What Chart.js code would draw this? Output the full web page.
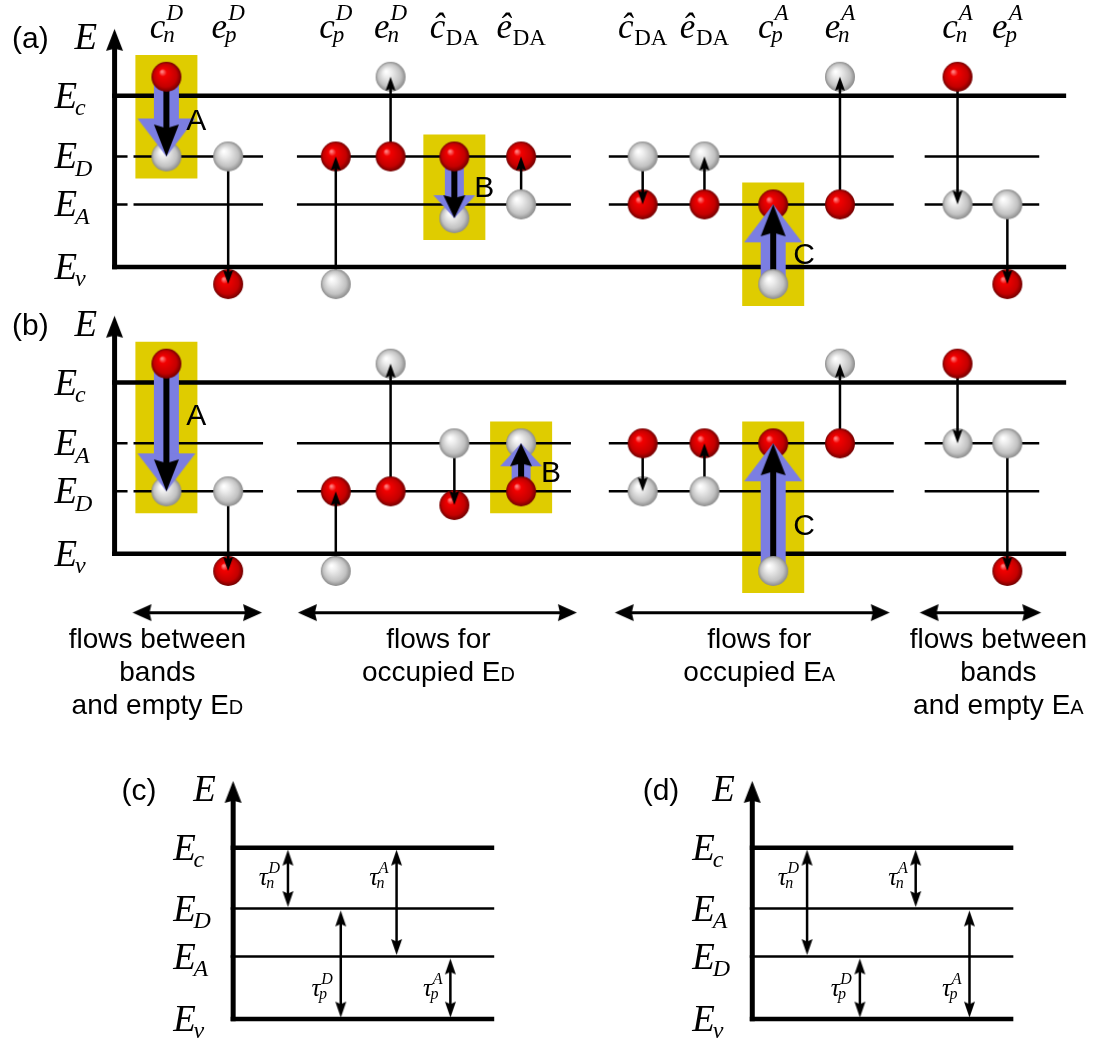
<!DOCTYPE html>
<html>
<head>
<meta charset="utf-8">
<script src="https://cdn.jsdelivr.net/npm/chart.js@4.4.1/dist/chart.umd.min.js"></script>
<style>
  html, body { margin: 0; padding: 0; background: #fff; }
  #wrap { width: 1108px; height: 1038px; }
</style>
</head>
<body>
<div id="wrap"><canvas id="diagram" width="1108" height="1038"></canvas></div>
<script>
// ---- data: energies in units of the gap (Ev = 0, Ec = 1) ----
const transBase = ['c', 'e', 'c', 'e', 'ĉ', 'ê', 'ĉ', 'ê', 'c', 'e', 'c', 'e'];
const transSub = ['n', 'p', 'p', 'n', 'DA', 'DA', 'DA', 'DA', 'p', 'n', 'n', 'p'];
const transSup = ['D', 'D', 'D', 'D', '', '', '', '', 'A', 'A', 'A', 'A'];

const levelSubs = ['c', 'D', 'A', 'v'];
const levelsA = [1, 0.645, 0.365, 0];   // (a) donor level above acceptor level
const levelsB = [1, 0.365, 0.645, 0];   // (b) acceptor level above donor level
const levelsC = [1, 0.645, 0.365, 0];
const levelsD = [1, 0.365, 0.645, 0];

// start / end energy of every transition, and whether the start site holds an electron
const fromA = [1.11, 0.645, -0.10, 0.645, 0.645, 0.365, 0.645, 0.365, -0.10, 0.365, 1.11, 0.365];
const toA = [0.645, -0.10, 0.645, 1.11, 0.285, 0.645, 0.365, 0.645, 0.365, 1.11, 0.365, -0.10];
const filledA = [1, 0, 0, 1, 1, 0, 0, 1, 0, 1, 1, 0];
const fromB = [1.11, 0.365, -0.10, 0.365, 0.645, 0.365, 0.645, 0.365, -0.10, 0.645, 1.11, 0.645];
const toB = [0.365, -0.10, 0.365, 1.11, 0.285, 0.645, 0.365, 0.645, 0.645, 1.11, 0.645, -0.10];
const filledB = [1, 0, 0, 1, 0, 1, 1, 0, 0, 1, 1, 0];

const hlNames = ['A', 'B', 'C'];
const hlColsA = [0, 4, 8];
const hlColsB = [0, 5, 8];

const tauSub = ['n', 'n', 'p', 'p'];
const tauSup = ['D', 'A', 'D', 'A'];
const tauFromC = [1, 1, 0.645, 0.365];
const tauToC = [0.645, 0.365, 0, 0];
const tauFromD = [1, 1, 0.365, 0.645];
const tauToD = [0.365, 0.645, 0, 0];

const flowTexts = [
    ['flows between', 'bands', 'and empty E_D'],
    ['flows for', 'occupied E_D'],
    ['flows for', 'occupied E_A'],
    ['flows between', 'bands', 'and empty E_A']
];

// ---- layout ----
const W = 1108, H = 1038;
const PX_PER_E = 172;
const evRow = { ya: 266, yb: 554, ycd: 1021 };
const colX = [165, 227, 335, 390, 454, 521, 643, 705, 774, 841, 959, 1009];
const trapSegs = [[113, 126], [132, 262], [296, 571], [609, 895], [926, 1041]];
const axisAB = 113, bandEndAB = 1068;
const axisC = 232, axisD = 753, bandLenCD = 262;
const tauDx = [55, 164, 108, 218];
const flowSpan = [[131, 261], [297, 577], [615, 891], [921, 1043]];
const flowTextX = [156, 438, 760, 1000];
const flowE = -0.343;
const hlLabelEA = [0.80, 0.41, 0.02];
const hlLabelEB = [0.75, 0.42, 0.11];

const YELLOW = '#dfcc00', BLUE = '#7b7ee2';
const SERIF = '"Liberation Serif", "Times New Roman", serif';
const SANS = '"Liberation Sans", Arial, sans-serif';

const e = px => px / PX_PER_E;

// ---- sprites ----
function sphere(r, stops) {
    const c = document.createElement('canvas');
    c.width = c.height = 2 * r + 2;
    const g = c.getContext('2d');
    const m = c.width / 2;
    const grd = g.createRadialGradient(m - r * 0.3, m - r * 0.35, r * 0.05, m, m, r);
    stops.forEach(([o, col]) => grd.addColorStop(o, col));
    g.fillStyle = grd;
    g.beginPath();
    g.arc(m, m, r, 0, Math.PI * 2);
    g.fill();
    return c;
}

// arrow head pointing down, tip at the sprite centre
function makeHead(h) {
    const c = document.createElement('canvas');
    c.width = Math.ceil(h.w) + 2;
    c.height = Math.ceil(h.len) * 2 + 2;
    const g = c.getContext('2d');
    const cx = c.width / 2, tip = c.height / 2;
    g.fillStyle = h.color;
    g.beginPath();
    g.moveTo(cx, tip);
    g.lineTo(cx - h.w / 2, tip - h.len);
    g.lineTo(cx, tip - h.len * (1 - h.notch));
    g.lineTo(cx + h.w / 2, tip - h.len);
    g.closePath();
    g.fill();
    return c;
}

const heads = {
    thin: { w: 10, len: 14, color: '#000', notch: 0.15 },
    axis: { w: 17, len: 22, color: '#000', notch: 0.1 },
    tau: { w: 11, len: 16, color: '#000', notch: 0.15 },
    flow: { w: 17, len: 19, color: '#000', notch: 0.1 },
    blackL: { w: 25, len: 32, color: '#000', notch: 0.12 },
    blackS: { w: 22, len: 23, color: '#000', notch: 0.12 },
    blueL: { w: 58, len: 38, color: BLUE, notch: 0 },
    blueS: { w: 42, len: 23, color: BLUE, notch: 0 }
};

const sprites = {
    red: sphere(15, [[0, '#ff8080'], [0.22, '#f20000'], [0.75, '#c40000'], [1, '#700000']]),
    grey: sphere(15, [[0, '#ffffff'], [0.25, '#eeeeee'], [0.75, '#c2c2c2'], [1, '#8a8a8a']])
};
Object.keys(heads).forEach(k => { sprites[k] = makeHead(heads[k]); });

// ---- datasets ----
const datasets = [];
const markGroups = new Map();

function path(yID, pts, color, width, order) {
    datasets.push({
        yAxisID: yID, data: pts, showLine: true, spanGaps: false,
        borderColor: color, borderWidth: width, borderCapStyle: 'butt',
        pointRadius: 0, pointHoverRadius: 0, order
    });
}

function mark(yID, x, y, sprite, rot, order) {
    const key = [yID, sprite, rot, order].join('|');
    if (!markGroups.has(key)) markGroups.set(key, { yID, sprite, rot, order, pts: [] });
    markGroups.get(key).pts.push({ x, y });
}

function arrow(yID, x, y0, y1, headName, width, color, order) {
    const dir = y1 > y0 ? 1 : -1;
    path(yID, [{ x, y: y0 }, { x, y: y1 - dir * e(heads[headName].len * 0.7) }], color, width, order);
    mark(yID, x, y1, headName, dir > 0 ? 180 : 0, order - 1);
}

function energyAxis(yID, ax, Ev, Ec) {
    const tip = Ec + e(67);
    path(yID, [{ x: ax, y: Ev - e(2.25) }, { x: ax, y: tip - e(15) }], '#000', 5, 80);
    mark(yID, ax, tip, 'axis', 180, 79);
}

function bandPanel(yID, levels, from, to, filled, hlCols) {
    path(yID, [{ x: axisAB - 2.5, y: levels[0] }, { x: bandEndAB, y: levels[0] }], '#000', 4.5, 80);
    path(yID, [{ x: axisAB - 2.5, y: levels[3] }, { x: bandEndAB, y: levels[3] }], '#000', 4.5, 80);
    [levels[1], levels[2]].forEach(lv => {
        const pts = [];
        trapSegs.forEach(([x0, x1]) => pts.push({ x: x0, y: lv }, { x: x1, y: lv }, { x: x1, y: null }));
        path(yID, pts, '#000', 2.5, 80);
    });
    energyAxis(yID, axisAB, levels[3], levels[0]);

    colX.forEach((x, i) => {
        mark(yID, x, from[i], filled[i] ? 'red' : 'grey', 0, 30);
        mark(yID, x, to[i], filled[i] ? 'grey' : 'red', 0, 70);
        if (hlCols.indexOf(i) < 0) {
            arrow(yID, x, from[i], to[i], 'thin', 2.5, '#000', 50);
            return;
        }
        const small = Math.abs(to[i] - from[i]) * PX_PER_E < 70;
        const top = Math.max(from[i], to[i]) + e(22);
        const bot = Math.min(from[i], to[i]) - e(22);
        path(yID, [{ x, y: top }, { x, y: bot }], YELLOW, 62, 95);
        arrow(yID, x, from[i], to[i], small ? 'blueS' : 'blueL', small ? 19 : 25, BLUE, 60);
        arrow(yID, x, from[i], to[i], small ? 'blackS' : 'blackL', 6, '#000', 50);
    });
}

function tauPanel(yID, ax, levels, tFrom, tTo) {
    levels.forEach((lv, k) => {
        const thick = k === 0 || k === 3;
        path(yID, [{ x: ax - 2.5, y: lv }, { x: ax + bandLenCD, y: lv }], '#000', thick ? 4.5 : 2.5, 80);
    });
    energyAxis(yID, ax, levels[3], levels[0]);
    tauDx.forEach((dx, i) => {
        const x = ax + dx;
        const hi = tFrom[i] - e(2), lo = tTo[i] + e(1.5);
        const L = heads.tau.len;
        path(yID, [{ x, y: hi - e(L * 0.7) }, { x, y: lo + e(L * 0.7) }], '#000', 2.5, 50);
        mark(yID, x, hi, 'tau', 180, 49);
        mark(yID, x, lo, 'tau', 0, 49);
    });
}

bandPanel('ya', levelsA, fromA, toA, filledA, hlColsA);
bandPanel('yb', levelsB, fromB, toB, filledB, hlColsB);
tauPanel('ycd', axisC, levelsC, tauFromC, tauToC);
tauPanel('ycd', axisD, levelsD, tauFromD, tauToD);

flowSpan.forEach(([x0, x1]) => {
    const L = heads.flow.len;
    path('yb', [{ x: x0 + L * 0.7, y: flowE }, { x: x1 - L * 0.7, y: flowE }], '#000', 3, 50);
    mark('yb', x0, flowE, 'flow', 90, 49);
    mark('yb', x1, flowE, 'flow', -90, 49);
});

markGroups.forEach(m => {
    datasets.push({
        yAxisID: m.yID, data: m.pts, showLine: false,
        pointStyle: sprites[m.sprite], pointRotation: m.rot,
        pointRadius: 1, pointHoverRadius: 1, order: m.order
    });
});

// ---- text ----
function mathText(ctx, x, y, base, sup, sub, size, align, uprightSub) {
    const s = Math.round(size * 0.65);
    const fb = `italic ${size}px ${SERIF}`;
    const fs = `italic ${s}px ${SERIF}`;
    const fsub = uprightSub ? `${s}px ${SERIF}` : fs;
    ctx.font = fb; const wb = ctx.measureText(base).width;
    ctx.font = fs; const wsup = sup ? ctx.measureText(sup).width : 0;
    ctx.font = fsub; const wsub = sub ? ctx.measureText(sub).width : 0;
    const supX = wb + size * 0.03;
    const subX = uprightSub ? wb + size * 0.02 : wb - size * 0.06;
    const total = Math.max(wb, sup ? supX + wsup : 0, sub ? subX + wsub : 0);
    const x0 = align === 'center' ? x - total / 2 : align === 'right' ? x - total : x;
    ctx.font = fb; ctx.fillText(base, x0, y);
    if (sup) { ctx.font = fs; ctx.fillText(sup, x0 + supX, y - size * 0.5); }
    if (sub) { ctx.font = fsub; ctx.fillText(sub, x0 + subX, y + (sup ? size * 0.12 : size * 0.2)); }
}

function smallCapsText(ctx, text, cx, y, size) {
    const parts = text.split('_');
    const big = `${size}px ${SANS}`, small = `${Math.round(size * 0.72)}px ${SANS}`;
    ctx.font = big; const w1 = ctx.measureText(parts[0]).width;
    ctx.font = small; const w2 = parts[1] ? ctx.measureText(parts[1]).width : 0;
    const x0 = cx - (w1 + w2) / 2;
    ctx.font = big; ctx.fillText(parts[0], x0, y);
    if (parts[1]) { ctx.font = small; ctx.fillText(parts[1], x0 + w1, y); }
}

const textPlugin = {
    id: 'diagramText',
    afterDatasetsDraw(chart) {
        const { ctx, scales } = chart;
        const X = v => scales.x.getPixelForValue(v);
        const Y = (id, v) => scales[id].getPixelForValue(v);
        ctx.save();
        ctx.fillStyle = '#000';
        ctx.textAlign = 'left';
        ctx.textBaseline = 'alphabetic';

        const panels = [
            { id: 'ya', tag: '(a)', ax: axisAB, tagX: 10, levels: levelsA },
            { id: 'yb', tag: '(b)', ax: axisAB, tagX: 10, levels: levelsB },
            { id: 'ycd', tag: '(c)', ax: axisC, tagX: 120, levels: levelsC },
            { id: 'ycd', tag: '(d)', ax: axisD, tagX: 643, levels: levelsD }
        ];
        panels.forEach(p => {
            const ecPx = Y(p.id, p.levels[0]);
            ctx.font = `30px ${SANS}`;
            ctx.fillText(p.tag, X(p.tagX), ecPx - 48);
            mathText(ctx, X(p.ax) - 40, ecPx - 47, 'E', '', '', 37, 'left');
            p.levels.forEach((lv, k) => {
                mathText(ctx, X(p.ax) - 60, Y(p.id, lv) + 12, 'E', '', levelSubs[k], 37, 'left');
            });
        });

        // transition names above panel (a)
        colX.forEach((x, i) => {
            const up = transSup[i] === '';
            mathText(ctx, X(x), Y('ya', 1) - 58, transBase[i], transSup[i], transSub[i], 35, 'center', up);
        });

        // A, B, C
        ctx.font = `30px ${SANS}`;
        hlColsA.forEach((c, k) => ctx.fillText(hlNames[k], X(colX[c] + 20), Y('ya', hlLabelEA[k])));
        hlColsB.forEach((c, k) => ctx.fillText(hlNames[k], X(colX[c] + 20), Y('yb', hlLabelEB[k])));

        // lifetimes
        [axisC, axisD].forEach(ax => {
            tauDx.forEach((dx, i) => {
                const yE = tauSub[i] === 'n' ? 0.78 : 0.134;
                mathText(ctx, X(ax + dx - 8), Y('ycd', yE), 'τ', tauSup[i], tauSub[i], 25, 'right');
            });
        });

        // flow captions
        const rowPx = Y('yb', flowE);
        flowTexts.forEach((lines, g) => {
            lines.forEach((t, r) => smallCapsText(ctx, t, X(flowTextX[g]), rowPx + 35 + r * 33, 28));
        });
        ctx.restore();
    }
};

function yRange(evPx) {
    return { type: 'linear', display: false, min: (evPx - H) / PX_PER_E, max: evPx / PX_PER_E };
}

new Chart(document.getElementById('diagram'), {
    type: 'scatter',
    data: { datasets },
    options: {
        responsive: false,
        animation: false,
        devicePixelRatio: 1,
        events: [],
        layout: { padding: 0 },
        plugins: { legend: { display: false }, tooltip: { enabled: false } },
        scales: {
            x: { type: 'linear', display: false, min: 0, max: W },
            ya: yRange(evRow.ya),
            yb: yRange(evRow.yb),
            ycd: yRange(evRow.ycd)
        }
    },
    plugins: [textPlugin]
});
</script>
</body>
</html>
